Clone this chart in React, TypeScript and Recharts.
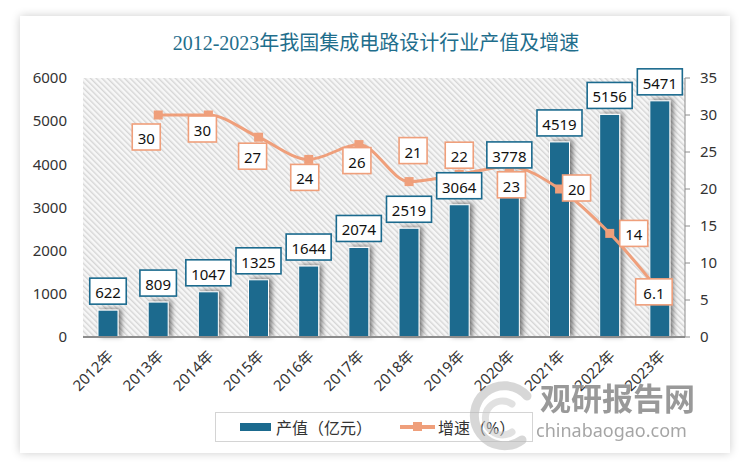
import { ComposedChart, Bar, Line, XAxis, YAxis, CartesianGrid, LabelList } from "recharts";

const years = ["2012年", "2013年", "2014年", "2015年", "2016年", "2017年", "2018年", "2019年", "2020年", "2021年", "2022年", "2023年"];
const output = [622, 809, 1047, 1325, 1644, 2074, 2519, 3064, 3778, 4519, 5156, 5471];
const growth = [null, 30, 30, 27, 24, 26, 21, 22, 23, 20, 14, 6.1];
const leftTicks = [0, 1000, 2000, 3000, 4000, 5000, 6000];
const rightTicks = [0, 5, 10, 15, 20, 25, 30, 35];

// where each growth label box sits relative to its point (like Excel's manual label nudges)
const growthLabelShift = [null, [-12, 22], [-6, 14], [-6, 19], [-4, 18], [-2, 16], [4, -31], [0, -19], [2, 18], [17, -1], [24, 0], [-6, 0]];

const BLUE = "#1b6a8e";
const ORANGE = "#ef9f7b";
const FONT = '"Noto Sans", "Noto Sans CJK SC", sans-serif';

const data = years.map((year, i) => ({ year, output: output[i], growth: growth[i] }));

const YearTick = (props: any) => {
  const { x, y, payload } = props;
  return (
    <text
      x={0}
      y={0}
      transform={`translate(${x + 6},${y + 12}) rotate(-45)`}
      textAnchor="end"
      fontSize={15}
      fill="#333"
      fontFamily={FONT}
    >
      {payload.value}
    </text>
  );
};

const BarShape = (props: any) => {
  const { x, y, width, height } = props;
  return (
    <rect x={x} y={y} width={width} height={height} fill={BLUE} stroke="#ffffff" strokeWidth={1} filter="url(#barShadow)" />
  );
};

const OutputLabel = (props: any) => {
  const { x, y, width, value } = props;
  const txt = String(value);
  const w = txt.length * 8.5 + 11;
  const h = 26;
  const cx = x + width / 2;
  const top = y - 6 - h;
  return (
    <g>
      <rect x={cx - w / 2} y={top} width={w} height={h} fill="#fff" stroke={BLUE} strokeWidth={1.6} />
      <text x={cx} y={top + h / 2 + 1} textAnchor="middle" dominantBaseline="central" fontSize={15} fill="#111" fontFamily={FONT}>
        {txt}
      </text>
    </g>
  );
};

const GrowthLabel = (props: any) => {
  const { x, y, value, index } = props;
  const shift = growthLabelShift[index];
  if (value == null || !shift) return null;
  const txt = String(value);
  const w = txt.length * 8.5 + 11;
  const h = 26;
  const cx = x + shift[0];
  const cy = y + shift[1];
  return (
    <g>
      <rect x={cx - w / 2} y={cy - h / 2} width={w} height={h} fill="#fff" stroke={ORANGE} strokeWidth={1.6} />
      <text x={cx} y={cy + 1} textAnchor="middle" dominantBaseline="central" fontSize={15} fill="#111" fontFamily={FONT}>
        {txt}
      </text>
    </g>
  );
};

const SquareDot = (props: any) => {
  const { cx, cy, index } = props;
  if (cx == null || cy == null || props.value == null) return <g key={`d${index}`} />;
  return <rect key={`d${index}`} x={cx - 4.5} y={cy - 4.5} width={9} height={9} fill={ORANGE} />;
};

export default function App() {
  return (
    <div style={{ position: "absolute", left: 0, top: 0, width: 750, height: 471, background: "#fff", overflow: "hidden" }}>
      <div
        style={{
          position: "absolute",
          left: 20,
          top: 16,
          width: 710,
          height: 437,
          background: "#fff",
          boxShadow: "0 0 9px rgba(0,0,0,0.2)",
        }}
      />
      <div
        style={{
          position: "absolute",
          left: 0,
          top: 31,
          width: 752,
          textAlign: "center",
          fontFamily: '"Liberation Serif", "Noto Sans CJK SC", serif',
          fontSize: 20,
          lineHeight: "24px",
          color: "#1f6e8c",
        }}
      >
        2012-2023年我国集成电路设计行业产值及增速
      </div>

      <div style={{ position: "absolute", left: 0, top: 0 }}>
        <ComposedChart width={750} height={471} data={data} margin={{ top: 78, right: 5, bottom: 104, left: 23 }}>
          <defs>
            <pattern id="hatch" width="4" height="4" patternUnits="userSpaceOnUse" patternTransform="rotate(-45)">
              <rect width="4" height="4" fill="#f7f7f7" />
              <rect width="1.4" height="4" fill="#d6d6d6" />
            </pattern>
            <filter id="barShadow" x="-60%" y="-20%" width="220%" height="140%">
              <feDropShadow dx="3" dy="-1" stdDeviation="2.5" floodColor="#000" floodOpacity="0.5" />
            </filter>
          </defs>
          <CartesianGrid fill="url(#hatch)" stroke="none" horizontal={false} vertical={false} />
          <XAxis
            dataKey="year"
            height={30}
            axisLine={{ stroke: "#8c8c8c", strokeWidth: 2 }}
            tickLine={false}
            tick={<YearTick />}
            interval={0}
          />
          <YAxis
            yAxisId="left"
            width={60}
            domain={[0, 6000]}
            ticks={leftTicks}
            axisLine={false}
            tickLine={false}
            tickSize={6}
            tickMargin={10}
            tick={{ fontSize: 15, fill: "#333", fontFamily: FONT }}
          />
          <YAxis
            yAxisId="right"
            orientation="right"
            width={60}
            domain={[0, 35]}
            ticks={rightTicks}
            axisLine={{ stroke: "#8c8c8c" }}
            tickLine={{ stroke: "#8c8c8c" }}
            tickSize={5}
            tickMargin={10}
            tick={{ fontSize: 15, fill: "#333", fontFamily: FONT }}
          />
          <Bar yAxisId="left" dataKey="output" barSize={20} shape={<BarShape />} isAnimationActive={false}>
            <LabelList dataKey="output" content={<OutputLabel />} />
          </Bar>
          <Line
            yAxisId="right"
            dataKey="growth"
            type="monotone"
            stroke={ORANGE}
            strokeWidth={3}
            dot={SquareDot}
            activeDot={false}
            isAnimationActive={false}
          >
            <LabelList dataKey="growth" content={<GrowthLabel />} />
          </Line>
        </ComposedChart>
      </div>

      <div
        style={{
          position: "absolute",
          left: 215,
          top: 412,
          width: 316,
          height: 28,
          border: "1px solid #d4d4d4",
          background: "#fff",
          fontFamily: FONT,
          fontSize: 16,
          color: "#333",
        }}
      >
        <div style={{ position: "absolute", left: 24, top: 10, width: 31, height: 8, background: BLUE }} />
        <div style={{ position: "absolute", left: 60, top: 2, whiteSpace: "nowrap" }}>产值（亿元）</div>
        <div style={{ position: "absolute", left: 184, top: 12, width: 35, height: 4, background: ORANGE }} />
        <div style={{ position: "absolute", left: 197, top: 9, width: 9, height: 9, background: ORANGE }} />
        <div style={{ position: "absolute", left: 222, top: 2, whiteSpace: "nowrap" }}>增速（%）</div>
      </div>

      <svg width={750} height={471} style={{ position: "absolute", left: 0, top: 0, pointerEvents: "none" }}>
        <g opacity={0.55} fill="none" strokeLinecap="round">
          <path d="M 527 396 A 30 30 0 1 0 522 440" stroke="#b8b8b8" strokeWidth={9} />
          <path d="M 512 404 A 17 17 0 1 0 512 432" stroke="#c9c9c9" strokeWidth={7} />
        </g>
        <text x={540} y={410} fontSize={31} fontWeight="bold" fill="#8e8e8e" fontFamily='"Noto Sans CJK SC", sans-serif' opacity={0.9}>
          观研报告网
        </text>
        <text x={536} y={437} fontSize={18} fill="#9c9c9c" fontFamily={FONT} opacity={0.9}>
          chinabaogao.com
        </text>
      </svg>
    </div>
  );
}
